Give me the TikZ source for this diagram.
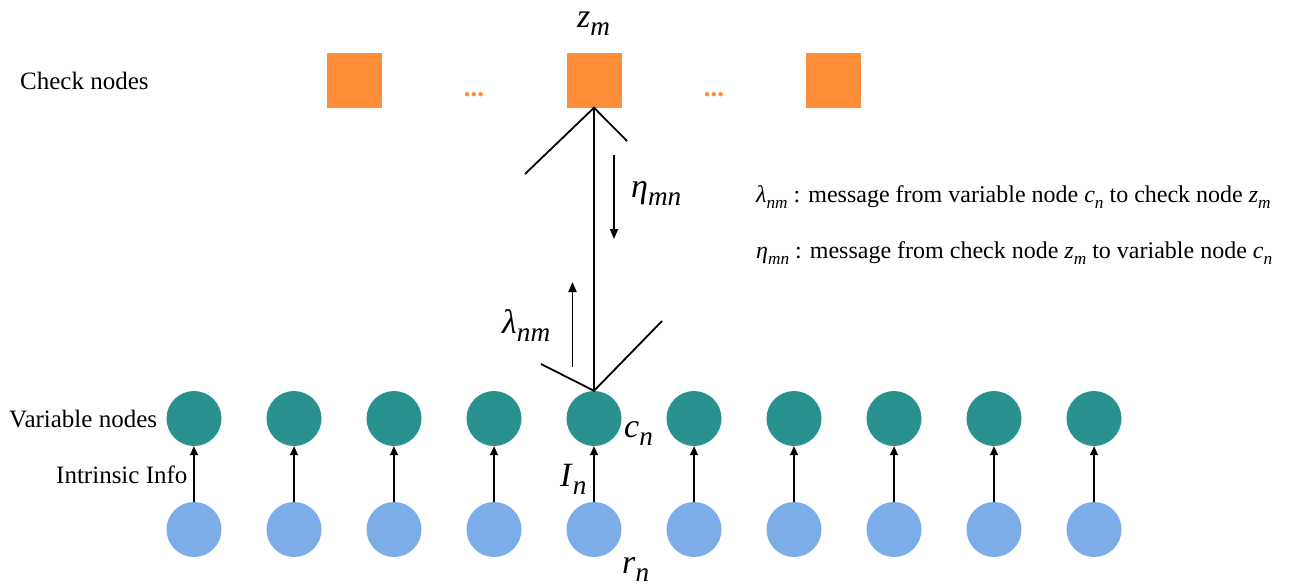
\documentclass[tikz,border=0pt]{standalone}
\usepackage{fontspec}
\setmainfont{Liberation Serif}
\newfontfamily\tms{Liberation Serif}
\usetikzlibrary{arrows.meta}
\definecolor{chk}{RGB}{255,140,56}
\definecolor{var}{RGB}{42,146,142}
\definecolor{obs}{RGB}{125,173,232}
\newcommand{\sbs}[2]{\textit{#1}\raisebox{-0.26em}{\scalebox{0.72}{\textit{#2}}}}
\newcommand{\bsb}[2]{\textit{#1}\raisebox{-0.26em}{\scalebox{0.8}{\textit{#2}}}}
\begin{document}
\begin{tikzpicture}[x=1pt,y=-1pt,
  checkbox/.style={rectangle,fill=chk,minimum width=55pt,minimum height=55pt,inner sep=0pt},
  varnode/.style={circle,fill=var,minimum size=55pt,inner sep=0pt},
  obsnode/.style={circle,fill=obs,minimum size=55pt,inner sep=0pt},
  txt/.style={inner sep=0pt,anchor=base west,font=\tms\fontsize{25}{30}\selectfont},
  lbl/.style={inner sep=0pt,anchor=base west,font=\tms\fontsize{34}{40}\selectfont},
  leg/.style={inner sep=0pt,anchor=base west,font=\tms\fontsize{24}{28}\selectfont},
  dots/.style={inner sep=0pt,anchor=base,text=chk,font=\tms\bfseries\fontsize{27}{30}\selectfont},
  info/.style={-{Triangle[length=9pt,width=8pt]},line width=1.8pt},
  msg/.style={-{Triangle[length=10pt,width=8pt]},line width=1.8pt},
  edge/.style={line width=1.8pt}]
\useasboundingbox (0,0) rectangle (1289,587);
% check nodes
\node[checkbox] (c1) at (354.5,80) {};
\node[checkbox] (c2) at (594,80) {};
\node[checkbox] (c3) at (833.5,80) {};
\node[dots] (d1) at (474,96) {...};
\node[dots] (d2) at (714,96) {...};
\node[txt] (tchk) at (20,89) {Check nodes};
\node[lbl] (zm) at (577,27) {\bsb{z}{m}};
% variable and observation nodes
\foreach \i/\x in {1/194,2/294,3/394,4/494,5/594,6/694,7/794,8/894,9/994,10/1094}{
  \node[varnode] (v\i) at (\x,418.5) {};
  \node[obsnode] (r\i) at (\x,529.5) {};
  \draw[info] (r\i.north) -- (v\i.south);
}
\node[txt] (tvar) at (9,427) {Variable nodes};
\node[txt] (tint) at (56,483) {Intrinsic Info};
\node[lbl] (cn) at (624,437) {\bsb{c}{n}};
\node[lbl] (In) at (560,486) {\bsb{I}{n}};
\node[lbl] (rn) at (622,573) {\bsb{r}{n}};
% edge between z_m and c_n
\draw[edge] (c2.south) -- (v5.north);
\coordinate (tl) at (525,174);
\coordinate (tr) at (627,141);
\coordinate (bl) at (541,364);
\coordinate (br) at (662,321);
\draw[edge] (tl) -- (c2.south) -- (tr);
\draw[edge] (bl) -- (v5.north) -- (br);
\coordinate (eta1) at (614,155);
\coordinate (eta2) at (614,239);
\coordinate (lam1) at (572.5,367);
\coordinate (lam2) at (572.5,282);
\draw[msg] (eta1) -- (eta2);
\draw[msg] (lam1) -- (lam2);
\node[lbl] (eta) at (631,197) {\bsb{η}{mn}};
\node[lbl] (lam) at (502,333) {\bsb{λ}{nm}};
% legend
\node[leg] (leg1) at (756,202) {\sbs{λ}{nm} : message from variable node \sbs{c}{n} to check node \sbs{z}{m}};
\node[leg] (leg2) at (756,258) {\sbs{η}{mn} : message from check node \sbs{z}{m} to variable node \sbs{c}{n}};
\end{tikzpicture}
\end{document}
